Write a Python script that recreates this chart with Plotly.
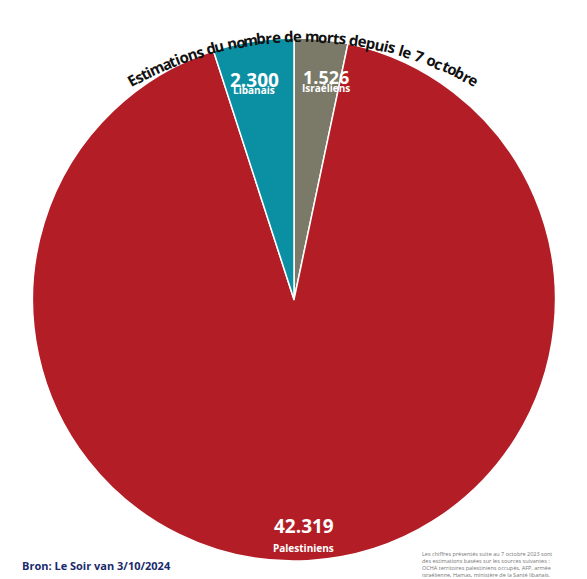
import math
import plotly.graph_objects as go

labels = ['Israéliens', 'Palestiniens', 'Libanais']
values = [1526, 42319, 2300]
colors = ['#7b7a68', '#b31e26', '#0b8fa3']
title = 'Estimations du nombre de morts depuis le 7 octobre'

W, H = 587, 579
fig = go.Figure(go.Pie(
    labels=labels, values=values, sort=False, direction='clockwise', rotation=0,
    marker=dict(colors=colors, line=dict(color='white', width=1.5)),
    textinfo='none', hoverinfo='label+value',
    domain=dict(x=[24 / W, 548 / W], y=[1 - 553 / H, 1 - 30 / H]),
))

def px(x, y):
    return x / W, 1 - y / H

anns = []
# curved title, one character at a time
widths = {'i': 0.5, 'l': 0.5, 't': 0.65, ' ': 0.45, 'r': 0.7, 's': 0.8, 'm': 1.45, 'E': 0.9}
cx, cy, R = 295, 380, 352
ws = [widths.get(c, 1.0) for c in title]
total = sum(ws)
span = 365.0
s = -span / 2
for c, w in zip(title, ws):
    mid = s + w / total * span / 2
    a = mid / R
    x = cx + R * math.sin(a)
    y = cy - R * math.cos(a)
    xx, yy = px(x, y)
    anns.append(dict(x=xx, y=yy, xref='paper', yref='paper', text=f'<b>{c}</b>', showarrow=False,
                     textangle=math.degrees(a),
                     font=dict(family='Open Sans', size=15, color='#111'),
                     xanchor='center', yanchor='middle'))
    s += w / total * span

def lab(x, y, num, name, size=19):
    xx, yy = px(x, y)
    anns.append(dict(x=xx, y=yy, xref='paper', yref='paper', showarrow=False,
                     text=f'<b>{num}</b>', font=dict(family='Open Sans', size=size, color='white')))
    xx, yy = px(x, y + 16)
    anns.append(dict(x=xx, y=yy, xref='paper', yref='paper', showarrow=False,
                     text=f'<b>{name}</b>', font=dict(family='Open Sans', size=10, color='white')))

lab(246, 57, f'{values[2]:,}'.replace(',', '.'), labels[2])
lab(318, 55, f'{values[0]:,}'.replace(',', '.'), labels[0], size=18)
lab(296, 533, f'{values[1]:,}'.replace(',', '.'), labels[1])

xx, yy = px(412, 556)
anns.append(dict(x=xx, y=yy, xref='paper', yref='paper', showarrow=False, align='left',
                 xanchor='left', yanchor='middle',
                 text='Les chiffres présentés suite au 7 octobre 2023 sont<br>des estimations basées sur les sources suivantes :'
                      '<br>OCHA territoires palestiniens occupés, AFP, armée<br>israélienne, Hamas, ministère de la Santé libanais.',
                 font=dict(family='Open Sans', size=5.5, color='#777')))
xx, yy = px(12, 567)
anns.append(dict(x=xx, y=yy, xref='paper', yref='paper', showarrow=False, xanchor='left',
                 text='<b>Bron: Le Soir van 3/10/2024</b>',
                 font=dict(family='Open Sans', size=11, color='#1a2a6c')))

fig.update_layout(width=W, height=H, margin=dict(l=0, r=0, t=0, b=0),
                  paper_bgcolor='white', showlegend=False, annotations=anns)
fig.write_html('out.html')
